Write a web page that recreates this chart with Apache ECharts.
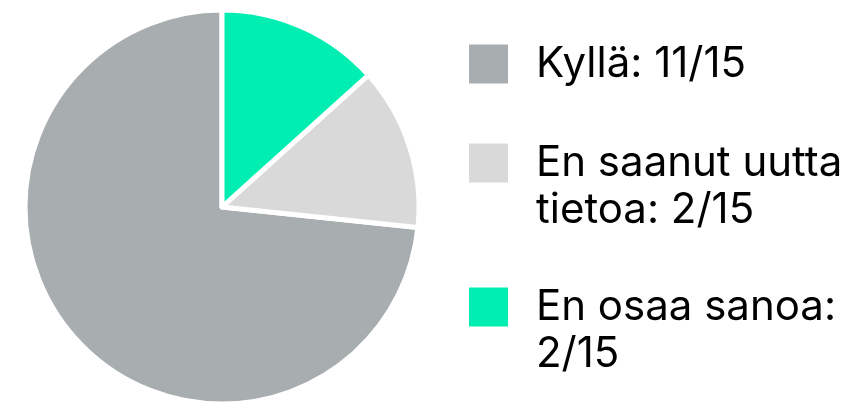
<!DOCTYPE html>
<html>
<head>
<meta charset="utf-8">
<script src="https://cdn.jsdelivr.net/npm/echarts@6/dist/echarts.min.js"></script>
<style>html,body{margin:0;padding:0;background:#fff}#c{width:857px;height:404px}</style>
</head>
<body>
<div id="c"></div>
<script>
const categories = ['Kyllä', 'En saanut uutta tietoa', 'En osaa sanoa'];
const values = [11, 2, 2];
const legendLines = [['Kyllä: 11/15'], ['En saanut uutta', 'tietoa: 2/15'], ['En osaa sanoa:', '2/15']];
const colors = ['#A8ADAF', '#D9D9D9', '#00EEB1'];

const chart = echarts.init(document.getElementById('c'), null, {renderer: 'canvas'});
const font = 'Inter';
// icon centres: 64, 163, 307
const iconCenters = [64, 163, 307];
const legends = categories.map((name, i) => {
  const lines = legendLines[i];
  // pad with empty lines so that the first text line is centred on the icon
  const padded = [];
  for (let k = 1; k < lines.length; k++) padded.push('');
  lines.forEach(l => padded.push(l));
  const blockH = padded.length * 47;
  return {
    orient: 'vertical',
    left: 467,
    top: iconCenters[i] - blockH / 2,
    padding: 0,
    itemWidth: 41,
    itemHeight: 41,
    itemGap: 0,
    icon: 'rect',
    selectedMode: false,
    data: [name],
    formatter: () => padded.map(l => '{t|' + l + '}').join('\n'),
    textStyle: {
      fontFamily: font,
      fontSize: 42,
      lineHeight: 47,
      color: '#000',
      rich: {
        t: {fontFamily: font, fontSize: 42, lineHeight: 47, color: '#000', padding: [0, 0, 0, 22]}
      }
    }
  };
});

chart.setOption({
  animation: false,
  color: colors,
  legend: legends,
  series: [{
    type: 'pie',
    center: [222, 207],
    radius: 197,
    startAngle: 90,
    clockwise: false,
    label: {show: false},
    labelLine: {show: false},
    itemStyle: {borderColor: '#fff', borderWidth: 5},
    emphasis: {disabled: true},
    data: categories.map((n, i) => ({name: n, value: values[i]}))
  }]
});
</script>
</body>
</html>
